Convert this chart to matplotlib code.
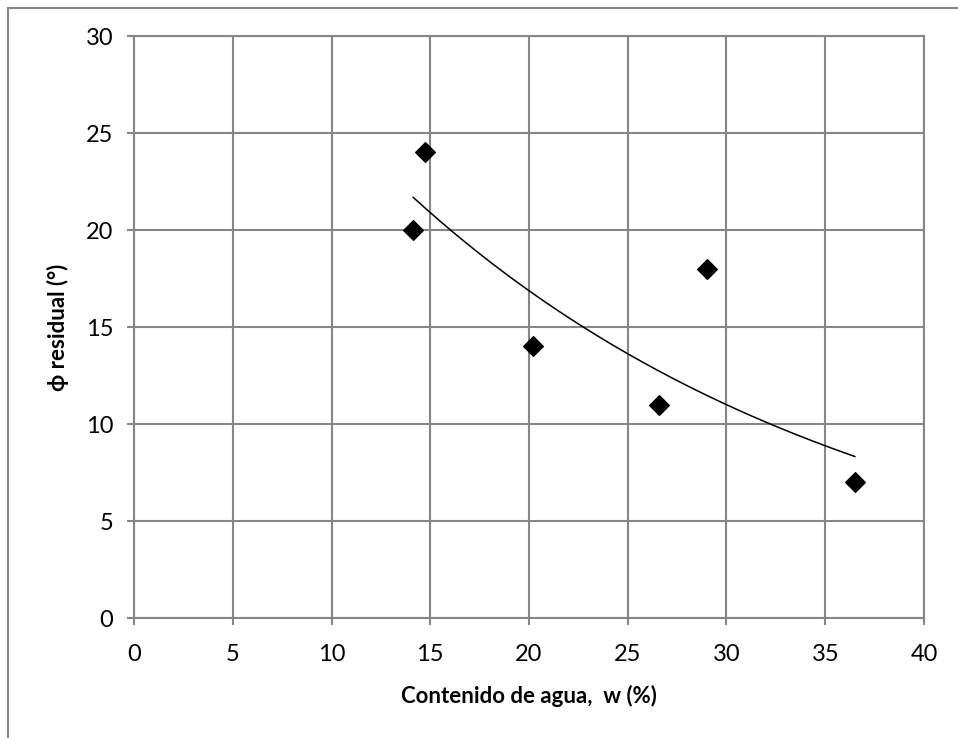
import numpy as np
import matplotlib
matplotlib.use("Agg")
import matplotlib.pyplot as plt
import matplotlib.patches as mpatches

# water content vs residual friction angle
water_content = [14.14, 14.73, 20.2, 26.6, 29.0, 36.5]
phi_residual = [20, 24, 14, 11, 18, 7]

x_ticks = [0, 5, 10, 15, 20, 25, 30, 35, 40]
y_ticks = [0, 5, 10, 15, 20, 25, 30]

grey = "#868686"
plt.rcParams["font.family"] = ["Lato", "DejaVu Sans"]

fig = plt.figure(figsize=(9.58, 7.38), dpi=100)
ax = fig.add_axes([0.1399, 0.1626, 0.8246, 0.7886])

# chart area border (left/top only visible)
fig.patches.append(mpatches.Rectangle((8 / 958, -0.1), 1.2, 1 - 8 / 738 + 0.1,
                                      transform=fig.transFigure, fill=False,
                                      edgecolor=grey, linewidth=1.5))

ax.scatter(water_content, phi_residual, marker="D", s=10 ** 2, color="black", zorder=3)

# exponential trendline like Excel
b, ln_a = np.polyfit(water_content, np.log(phi_residual), 1)
xs = np.linspace(min(water_content), max(water_content), 200)
ax.plot(xs, np.exp(ln_a) * np.exp(b * xs), color="black", linewidth=1.1, zorder=2)

ax.set_xlim(0, 40)
ax.set_ylim(0, 30)
ax.set_xticks(x_ticks)
ax.set_yticks(y_ticks)
ax.grid(True, color=grey, linewidth=1.5)
ax.set_axisbelow(True)
for s in ax.spines.values():
    s.set_color(grey)
    s.set_linewidth(1.5)
ax.tick_params(direction="out", length=5, width=1.5, color=grey, labelsize=17, pad=10)
ax.tick_params(axis="x", pad=14)

ax.set_xlabel("Contenido de agua,  w (%)", fontsize=16, fontweight="bold", labelpad=14)
ax.set_ylabel("ϕ residual (°)", fontsize=16, fontweight="bold", labelpad=12)

fig.savefig("out.png", dpi=100)
